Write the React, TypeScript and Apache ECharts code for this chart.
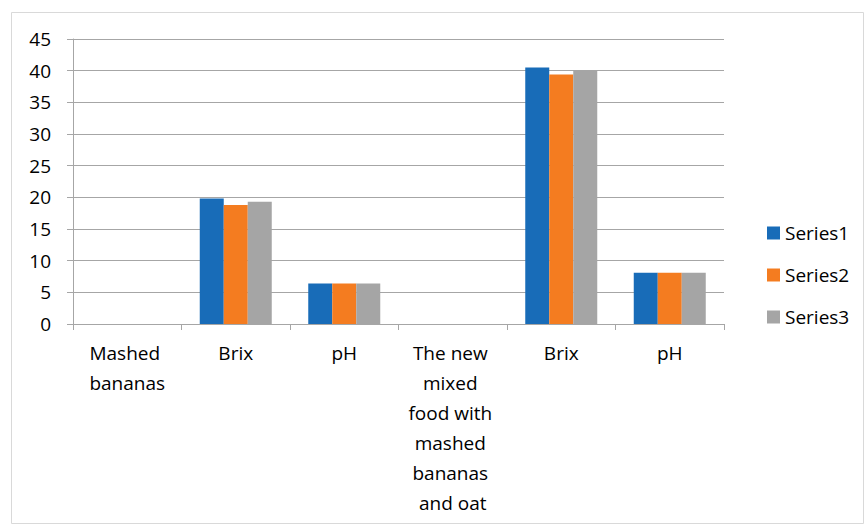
import React, { useEffect, useRef } from "react";
import * as echarts from "echarts";

const categories = [
  "Mashed bananas",
  "Brix",
  "pH",
  "The new mixed food with mashed bananas and oat",
  "Brix",
  "pH",
];
const series1 = [0, 19.8, 6.4, 0, 40.5, 8.1];
const series2 = [0, 18.8, 6.4, 0, 39.4, 8.1];
const series3 = [0, 19.3, 6.4, 0, 40.0, 8.1];
const seriesNames = ["Series1", "Series2", "Series3"];
const colors = ["#186cb8", "#f47c20", "#a5a5a5"];

const FONT = "Open Sans";
const TEXT = "#000000";

export default function App() {
  const ref = useRef<HTMLDivElement>(null);
  useEffect(() => {
    document.body.style.margin = "0";
    const chart = echarts.init(ref.current!, undefined, { renderer: "svg" });
    const data = [series1, series2, series3];
    chart.setOption({
      animation: false,
      color: colors,
      textStyle: { fontFamily: FONT },
      graphic: [
        {
          type: "rect",
          shape: { x: 11.5, y: 12.5, width: 852, height: 511 },
          style: { fill: "none", stroke: "#d9d9d9", lineWidth: 1 },
          silent: true,
        },
      ],
      grid: { left: 73, right: 141, top: 39, bottom: 201 },
      legend: {
        orient: "vertical",
        left: 762,
        top: 218,
        itemWidth: 13,
        itemHeight: 13,
        itemGap: 22,
        icon: "rect",
        textStyle: { fontFamily: FONT, fontSize: 19, color: TEXT, lineHeight: 20 },
        data: seriesNames,
      },
      xAxis: {
        type: "category",
        data: categories,
        axisLine: { lineStyle: { color: "#a6a6a6", width: 1 } },
        axisTick: { show: true, length: 6, interval: 0, lineStyle: { color: "#a6a6a6" } },
        axisLabel: {
          interval: 0,
          margin: 14,
          fontFamily: FONT,
          fontSize: 19,
          lineHeight: 30,
          color: TEXT,
          width: 100,
          overflow: "break",
          align: "center",
        },
      },
      yAxis: {
        type: "value",
        min: 0,
        max: 45,
        interval: 5,
        axisLine: { show: true, lineStyle: { color: "#a6a6a6" } },
        axisTick: { show: true, length: 6, lineStyle: { color: "#a6a6a6" } },
        splitLine: { show: true, lineStyle: { color: "#a6a6a6", width: 1 } },
        axisLabel: { margin: 22, fontFamily: FONT, fontSize: 19, color: TEXT },
      },
      series: seriesNames.map((name, i) => ({
        name,
        type: "bar",
        data: data[i],
        barWidth: 24,
        barGap: "0%",
        itemStyle: { color: colors[i] },
      })),
    });
    return () => chart.dispose();
  }, []);
  return <div ref={ref} style={{ width: 865, height: 525 }} />;
}
